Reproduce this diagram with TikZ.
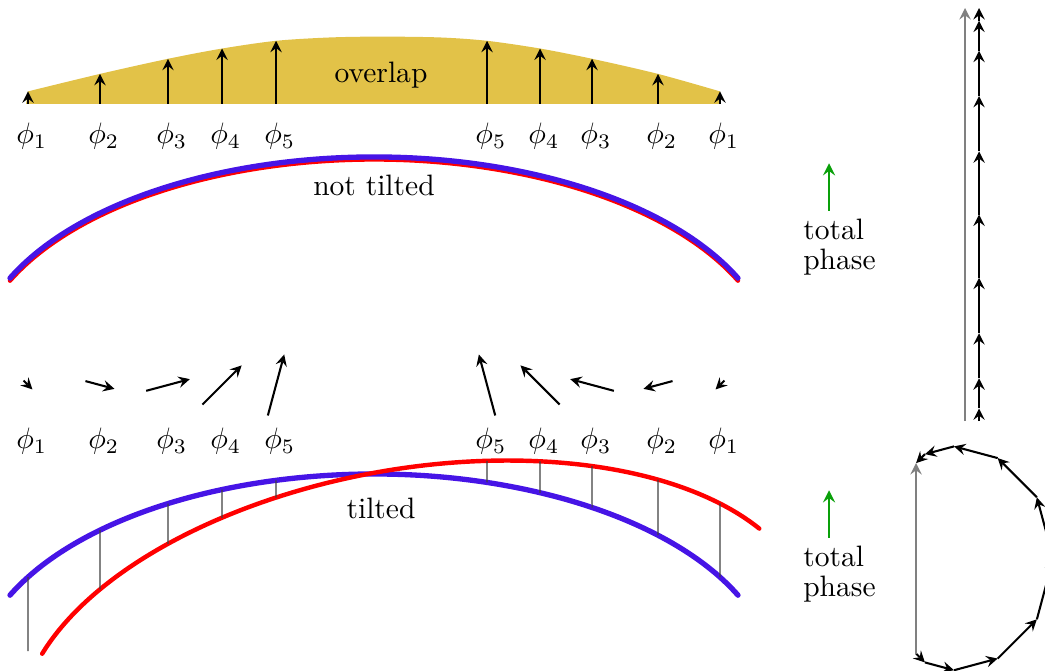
\documentclass[tikz,border=0pt]{standalone}
\usetikzlibrary{arrows,intersections}
\definecolor{overlapfill}{RGB}{226,194,72}
\definecolor{arcblue}{RGB}{70,20,230}
\definecolor{phasegreen}{RGB}{10,160,10}
\begin{document}
\begin{tikzpicture}[>=stealth,
    phasor/.style={->, line width=0.7pt},
    bluearc/.style={draw=arcblue, line width=1.8pt, line cap=round},
    redarc/.style={draw=red, line width=1.5pt, line cap=round},
    gapline/.style={draw=black!75, line width=0.4pt},
    greenup/.style={->, draw=phasegreen, line width=0.8pt},
    sumlabel/.style={anchor=base west, inner sep=0pt}]
    \useasboundingbox (0,0) rectangle (12.440,7.976);
    % overlap
    \fill[overlapfill] (0.310,6.738) -- plot[smooth] coordinates {(0.333,6.888) (1.190,7.096) (2.000,7.276) (2.643,7.398) (3.286,7.490) (3.929,7.530) (4.536,7.540) (5.238,7.530) (5.798,7.490) (6.429,7.398) (7.048,7.276) (7.833,7.096) (8.571,6.888)} -- (8.571,6.738) -- cycle;
    \node (ovl) at (4.536,7.077) {overlap};
    % phasors, both rows
    \foreach \x/\l/\a/\n/\s in {0.333/0.150/-45/1/L, 1.190/0.358/-15/2/L, 2.000/0.538/15/3/L, 2.643/0.660/45/4/L, 3.286/0.752/75/5/L,
                                5.798/0.752/105/5/R, 6.429/0.660/135/4/R, 7.048/0.538/165/3/R, 7.833/0.358/195/2/R, 8.571/0.150/225/1/R} {
        \draw[phasor] (\x,6.738) -- ++(0,\l);
        \node (up\s\n) [anchor=base] at (\x+0.045,6.262) {$\phi_{\n}$};
        \draw[phasor] (\x,3.393) ++({\a+180}:{\l/2}) -- ++(\a:\l);
        \node (lo\s\n) [anchor=base] at (\x+0.045,2.635) {$\phi_{\n}$};
    }
    % not tilted
    \draw[redarc] (4.452,3.613) ++(155.5:4.762 and 2.464) arc[start angle=155.5, end angle=24.5, x radius=4.762, y radius=2.464];
    \draw[bluearc] (4.452,3.643) ++(155.5:4.762 and 2.464) arc[start angle=155.5, end angle=24.5, x radius=4.762, y radius=2.464];
    \node (nt) [anchor=base] at (4.452,5.643) {not tilted};
    % tilted
    \draw[bluearc, name path=blueT] (4.452,-0.131) ++(155.5:4.762 and 2.464) arc[start angle=155.5, end angle=24.5, x radius=4.762, y radius=2.464];
    \draw[redarc, name path=redT, shift={(4.946,-0.068)}, rotate=9.9] (155.5:4.762 and 2.464) arc[start angle=155.5, end angle=24.5, x radius=4.762, y radius=2.464];
    \node (tl) [anchor=base] at (4.536,1.798) {tilted};
    \foreach \x in {1.190,2.000,2.643,3.286,5.798,6.429,7.048,7.833,8.571} {
        \path[name path=vcut] (\x,-0.5) -- (\x,5);
        \path[name intersections={of=blueT and vcut, by=bb}];
        \path[name intersections={of=redT and vcut, by=rr}];
        \draw[gapline] (bb) -- (rr);
    }
    \path[name path=vcut0] (0.333,-0.5) -- (0.333,5);
    \path[name intersections={of=blueT and vcut0, by=bb0}];
    \coordinate (gapend) at (0.333,0.226);
    \draw[gapline] (bb0) -- (gapend);
    % total phase
    \node (tot1) [sumlabel] at (9.556,5.120) {total};
    \node (ph1) [sumlabel] at ([yshift=-10pt]tot1.base west) {phase};
    \draw[greenup] (9.869,5.468) -- (9.869,6.032);
    \node (tot2) [sumlabel] at (9.556,1.227) {total};
    \node (ph2) [sumlabel] at ([yshift=-10pt]tot2.base west) {phase};
    \draw[greenup] (9.869,1.575) -- (9.869,2.139);
    % sums
    \coordinate (s0) at (11.655,2.964);
    \foreach \l [count=\i, remember=\i as \j (initially 0)] in {0.150,0.358,0.538,0.660,0.752,0.752,0.660,0.538,0.358,0.150}
        \draw[phasor] (s\j) -- ++(0,\l) coordinate (s\i);
    \coordinate (g0) at (11.488,2.964);
    \draw[phasor, draw=gray] (g0) -- (g0 |- s10);
    \coordinate (t0) at (10.905,0.196);
    \foreach \a/\l [count=\i, remember=\i as \j (initially 0)] in {-45/0.150, -15/0.358, 15/0.538, 45/0.660, 75/0.752, 105/0.752, 135/0.660, 165/0.538, 195/0.358, 225/0.150}
        \draw[phasor] (t\j) -- ++(\a:\l) coordinate (t\i);
    \draw[phasor, draw=gray] (t0) -- (t10);
\end{tikzpicture}
\end{document}
